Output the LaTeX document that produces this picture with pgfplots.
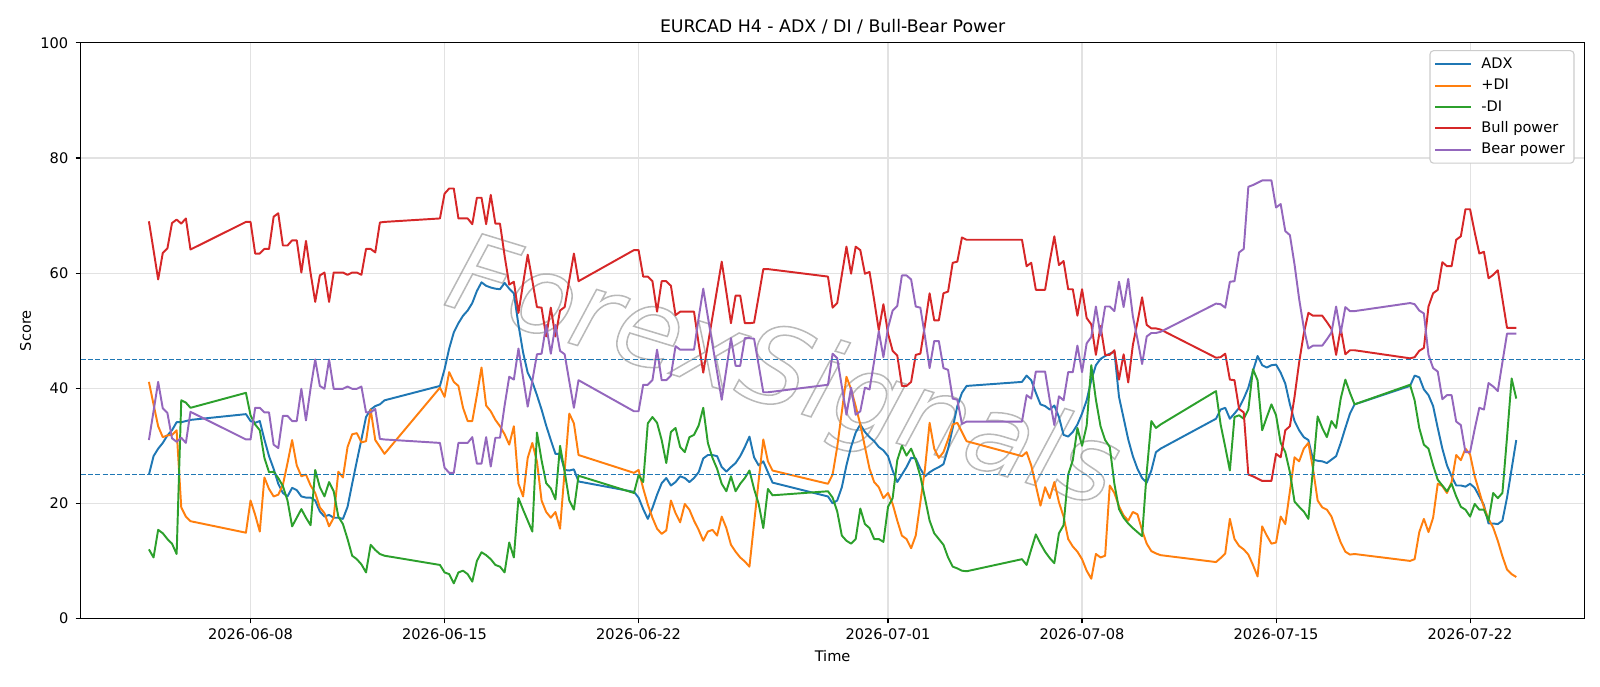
\documentclass[border=0pt]{standalone}
\usepackage{fontspec}
\setmainfont{DejaVu Sans}
\usepackage{pgfplots}
\pgfplotsset{compat=1.18}
\definecolor{tabblue}{HTML}{1F77B4}
\definecolor{taborange}{HTML}{FF7F0E}
\definecolor{tabgreen}{HTML}{2CA02C}
\definecolor{tabred}{HTML}{D62728}
\definecolor{tabpurple}{HTML}{9467BD}
\definecolor{gridgray}{HTML}{E2E2E2}
\definecolor{legframe}{HTML}{CCCCCC}
\begin{document}
\begin{tikzpicture}
\path[use as bounding box] (-58pt,-48.7pt) rectangle (1094pt,445.3pt);
\begin{axis}[
  at={(0pt,0pt)}, anchor=south west, scale only axis,
  width=1082.95pt, height=414.4pt,
  xmin=-36.8, xmax=288.8, ymin=0, ymax=100,
  xtick={0,42,84,138,180,222,264},
  xticklabels={2026-06-08,2026-06-15,2026-06-22,2026-07-01,2026-07-08,2026-07-15,2026-07-22},
  ytick={0,20,40,60,80,100},
  /pgf/number format/assume math mode=true,
  tick label style={font=\fontsize{10.5}{12.5}\selectfont},
  xticklabel style={anchor=base, yshift=-11.9pt},
  yticklabel style={anchor=east, xshift=-1.8pt},
  tick align=outside, tick pos=left, major tick length=3.5pt,
  tick style={black, line width=0.8pt},
  axis line style={line width=0.8pt},
  grid=major, major grid style={gridgray, line width=0.8pt},
  title={EURCAD H4 - ADX / DI / Bull-Bear Power},
  title style={font=\fontsize{12.5}{14.5}\selectfont, anchor=base, at={(0.5,1)}, yshift=1.8pt},
  xlabel={Time},
  xlabel style={font=\fontsize{10.5}{12.5}\selectfont, at={(axis description cs:0.5,0)}, anchor=base, yshift=-30.7pt},
  ylabel={Score},
  ylabel style={font=\fontsize{10.5}{12.5}\selectfont, at={(axis description cs:-0.0366,0.5)}, anchor=center},
  legend style={at={(1,1)}, anchor=north east, xshift=-7.3pt, yshift=-5.2pt,
    draw=legframe, rounded corners=2.5pt, line width=0.8pt,
    font=\fontsize{10.5}{12.5}\selectfont, inner xsep=3pt, inner ysep=2pt, row sep=0pt, column sep=3pt,
    nodes={minimum height=15.4pt, inner ysep=0pt, inner xsep=3.5pt}},
  legend cell align=left,
  legend image code/.code={\draw[#1, line width=1.4pt] (0pt,0pt) -- (26pt,0pt);},
  every axis plot/.append style={line width=1.4pt, line join=round},
]
\node[rotate=-17, text=gray, opacity=0.55, font=\fontsize{78}{78}\selectfont\itshape] at (axis cs:115,42) {\special{pdf:literal direct 1 Tr 1.1 w}ForexSignals\special{pdf:literal direct 0 Tr}};

\addplot[tabblue] coordinates {
(-22,25.0)(-21,28.2)(-20,29.5)(-19,30.5)(-18,31.8)(-17,32.7)(-16,34.1)(-15,34.1)(-14,34.3)(-13,34.5)
(-1,35.5)(0,34.3)(1,34.0)(2,34.3)(3,31.1)(4,28.2)(5,26.0)(6,23.4)(7,21.8)(8,21.2)(9,22.7)(10,22.3)(11,21.2)(12,21.0)(13,21.0)(14,20.5)(15,18.6)(16,17.7)(17,18.0)(18,17.5)(19,17.5)(20,17.3)(21,19.4)(22,23.4)(23,27.3)(24,31.1)(25,35.0)(26,36.3)(27,36.9)(28,37.2)(29,37.9)
(41,40.4)(42,43.3)(43,46.9)(44,49.7)(45,51.3)(46,52.6)(47,53.5)(48,54.8)(49,56.9)(50,58.4)(51,57.8)(52,57.5)(53,57.3)(54,57.2)(55,58.3)(56,57.3)(57,56.5)(58,51.0)(59,46.2)(60,42.7)(61,41.1)(62,38.8)(63,36.3)(64,33.5)(65,31.0)(66,28.6)(67,28.6)(68,25.8)(69,25.7)(70,25.9)(71,23.8)
(83,22.0)(84,21.0)(85,19.0)(86,17.3)(87,19.2)(88,21.5)(89,23.5)(90,24.4)(91,23.1)(92,23.7)(93,24.7)(94,24.4)(95,23.7)(96,24.4)(97,25.4)(98,27.8)(99,28.4)(100,28.4)(101,28.2)(102,26.3)(103,25.5)(104,26.3)(105,27.0)(106,28.2)(107,29.8)(108,31.6)(109,28.0)(110,26.6)(111,27.3)(112,25.4)(113,23.6)
(125,21.2)(126,20.0)(127,20.5)(128,22.8)(129,26.6)(130,29.8)(131,32.3)(132,33.7)(133,32.4)(134,31.5)(135,30.8)(136,29.8)(137,29.2)(138,28.2)(139,25.7)(140,23.7)(141,25.0)(142,26.3)(143,27.9)(144,27.8)(145,26.0)(146,24.7)(147,25.4)(148,25.9)(149,26.3)(150,26.8)(151,29.5)(152,33.1)(153,36.9)(154,39.2)(155,40.4)
(167,41.1)(168,42.2)(169,41.4)(170,39.2)(171,37.2)(172,36.9)(173,36.3)(174,37.0)(175,35.0)(176,31.9)(177,31.6)(178,32.4)(179,33.7)(180,35.6)(181,37.9)(182,41.4)(183,44.0)(184,45.1)(185,45.6)(186,46.0)(187,46.4)(188,38.5)(189,34.8)(190,31.1)(191,28.2)(192,26.0)(193,24.4)(194,23.6)(195,25.7)(196,28.9)(197,29.5)
(209,34.7)(210,36.3)(211,36.6)(212,34.7)(213,35.6)(214,36.6)(215,38.2)(216,40.1)(217,43.0)(218,45.6)(219,44.0)(220,43.6)(221,44.0)(222,44.1)(223,42.7)(224,40.8)(225,37.2)(226,34.3)(227,32.7)(228,31.5)(229,31.0)(230,27.6)(231,27.4)(232,27.3)(233,27.0)(234,27.6)(235,28.2)(236,30.5)(237,33.1)(238,35.6)(239,37.2)
(251,40.4)(252,42.2)(253,41.9)(254,39.8)(255,38.8)(256,36.9)(257,33.1)(258,29.5)(259,26.6)(260,24.7)(261,23.1)(262,23.1)(263,22.9)(264,23.4)(265,22.7)(266,21.2)(267,19.7)(268,16.5)(269,16.5)(270,16.4)(271,17.0)(272,21.0)(273,26.0)(274,31.0)
};
\addlegendentry{ADX}

\addplot[taborange] coordinates {
(-22,41.1)(-21,37.2)(-20,33.4)(-19,31.5)(-18,31.8)(-17,31.9)(-16,32.7)(-15,19.3)(-14,17.7)(-13,16.9)
(-1,14.9)(0,20.5)(1,18.0)(2,15.1)(3,24.5)(4,22.5)(5,21.2)(6,21.5)(7,23.2)(8,27.0)(9,31.0)(10,26.6)(11,24.7)(12,25.0)(13,23.1)(14,21.8)(15,19.3)(16,18.3)(17,16.0)(18,17.5)(19,25.5)(20,24.5)(21,29.8)(22,32.0)(23,32.2)(24,30.6)(25,30.8)(26,36.3)(27,31.0)(28,29.8)(29,28.6)
(41,40.1)(42,38.5)(43,42.8)(44,41.1)(45,40.4)(46,36.6)(47,34.3)(48,34.3)(49,38.8)(50,43.6)(51,37.0)(52,36.0)(53,34.5)(54,33.4)(55,32.0)(56,30.2)(57,33.4)(58,23.4)(59,21.2)(60,27.9)(61,30.5)(62,27.3)(63,20.5)(64,18.5)(65,17.5)(66,18.5)(67,15.6)(68,25.7)(69,35.6)(70,33.9)(71,28.4)
(83,25.3)(84,25.8)(85,22.6)(86,19.8)(87,17.5)(88,15.6)(89,14.7)(90,15.3)(91,20.5)(92,18.3)(93,16.7)(94,19.9)(95,18.9)(96,17.0)(97,15.4)(98,13.5)(99,15.1)(100,15.4)(101,14.4)(102,17.7)(103,15.7)(104,12.8)(105,11.6)(106,10.6)(107,9.9)(108,9.0)(109,16.5)(110,24.0)(111,31.1)(112,27.3)(113,25.7)
(125,23.4)(126,25.0)(127,29.8)(128,35.9)(129,42.0)(130,39.8)(131,36.9)(132,33.7)(133,29.8)(134,26.0)(135,23.7)(136,22.8)(137,20.9)(138,21.8)(139,19.9)(140,17.0)(141,14.4)(142,13.8)(143,12.2)(144,14.4)(145,20.2)(146,26.0)(147,34.0)(148,29.5)(149,27.9)(150,28.9)(151,31.1)(152,33.7)(153,34.0)(154,32.4)(155,30.8)
(167,28.2)(168,28.9)(169,26.6)(170,23.1)(171,19.6)(172,22.8)(173,20.9)(174,23.7)(175,20.2)(176,17.7)(177,13.8)(178,12.5)(179,11.6)(180,10.3)(181,8.3)(182,6.9)(183,11.2)(184,10.6)(185,10.9)(186,23.1)(187,21.8)(188,19.5)(189,17.9)(190,17.0)(191,18.5)(192,18.1)(193,15.3)(194,13.0)(195,11.7)(196,11.3)(197,11.0)
(209,9.8)(210,10.5)(211,11.3)(212,17.3)(213,13.8)(214,12.6)(215,12.0)(216,11.1)(217,9.3)(218,7.3)(219,16.0)(220,14.4)(221,13.0)(222,13.2)(223,17.7)(224,16.4)(225,22.1)(226,28.0)(227,27.3)(228,29.5)(229,30.5)(230,26.0)(231,20.5)(232,19.3)(233,18.9)(234,17.7)(235,15.4)(236,13.2)(237,11.6)(238,11.1)(239,11.2)
(251,10.0)(252,10.3)(253,15.0)(254,17.3)(255,15.0)(256,17.5)(257,23.4)(258,23.0)(259,21.8)(260,23.7)(261,28.4)(262,27.5)(263,29.5)(264,28.5)(265,24.7)(266,22.0)(267,19.3)(268,17.3)(269,15.8)(270,13.5)(271,10.8)(272,8.5)(273,7.7)(274,7.2)
};
\addlegendentry{+DI}

\addplot[tabgreen] coordinates {
(-22,12.0)(-21,10.6)(-20,15.4)(-19,14.8)(-18,13.8)(-17,13.0)(-16,11.2)(-15,37.9)(-14,37.5)(-13,36.6)
(-1,39.2)(0,35.3)(1,33.7)(2,32.7)(3,27.9)(4,25.4)(5,25.5)(6,24.4)(7,23.0)(8,20.5)(9,16.0)(10,17.5)(11,19.0)(12,17.5)(13,16.2)(14,25.8)(15,22.8)(16,21.2)(17,23.7)(18,22.1)(19,17.7)(20,16.4)(21,13.8)(22,10.9)(23,10.3)(24,9.4)(25,8.0)(26,12.8)(27,11.9)(28,11.2)(29,10.9)
(41,9.3)(42,8.0)(43,7.7)(44,6.1)(45,8.0)(46,8.3)(47,7.7)(48,6.4)(49,10.0)(50,11.5)(51,11.0)(52,10.3)(53,9.3)(54,9.0)(55,8.0)(56,13.2)(57,10.6)(58,20.9)(59,18.9)(60,17.0)(61,15.1)(62,32.3)(63,27.5)(64,23.5)(65,22.6)(66,20.7)(67,30.0)(68,25.5)(69,20.5)(70,18.9)(71,24.8)
(83,21.8)(84,24.9)(85,23.7)(86,33.9)(87,35.0)(88,34.0)(89,31.0)(90,27.0)(91,32.4)(92,33.1)(93,29.8)(94,28.9)(95,31.5)(96,31.9)(97,33.5)(98,36.6)(99,30.5)(100,27.9)(101,26.0)(102,23.4)(103,22.1)(104,24.7)(105,22.1)(106,23.4)(107,24.4)(108,25.7)(109,22.5)(110,19.9)(111,15.7)(112,22.5)(113,21.4)
(125,22.1)(126,21.0)(127,18.6)(128,14.4)(129,13.5)(130,13.0)(131,13.8)(132,19.1)(133,16.4)(134,15.7)(135,13.8)(136,13.8)(137,13.3)(138,19.4)(139,20.9)(140,27.5)(141,30.0)(142,28.3)(143,29.5)(144,27.5)(145,24.7)(146,20.9)(147,17.0)(148,14.8)(149,13.8)(150,12.8)(151,10.6)(152,9.0)(153,8.7)(154,8.3)(155,8.2)
(167,10.3)(168,9.3)(169,12.0)(170,14.6)(171,13.0)(172,11.6)(173,10.5)(174,9.6)(175,14.8)(176,16.2)(177,25.0)(178,27.5)(179,33.1)(180,30.0)(181,33.5)(182,44.0)(183,38.0)(184,33.4)(185,31.0)(186,29.8)(187,23.4)(188,19.0)(189,17.5)(190,16.5)(191,15.7)(192,15.0)(193,14.3)(194,25.4)(195,34.3)(196,33.1)(197,33.7)
(209,39.5)(210,33.7)(211,29.8)(212,25.7)(213,35.0)(214,35.3)(215,34.7)(216,36.3)(217,43.3)(218,41.4)(219,32.7)(220,35.0)(221,37.2)(222,35.3)(223,30.5)(224,28.9)(225,25.4)(226,20.3)(227,19.4)(228,18.6)(229,17.3)(230,26.0)(231,35.1)(232,33.1)(233,31.5)(234,34.3)(235,33.1)(236,38.2)(237,41.5)(238,39.2)(239,37.2)
(251,40.6)(252,37.9)(253,33.1)(254,30.2)(255,29.5)(256,26.6)(257,24.1)(258,23.1)(259,22.1)(260,23.4)(261,21.2)(262,19.4)(263,18.9)(264,17.7)(265,19.9)(266,18.9)(267,18.9)(268,17.0)(269,21.8)(270,20.9)(271,21.8)(272,31.5)(273,41.7)(274,38.2)
};
\addlegendentry{-DI}

\addplot[tabred] coordinates {
(-22,69.0)(-21,64.0)(-20,58.9)(-19,63.5)(-18,64.3)(-17,68.7)(-16,69.3)(-15,68.6)(-14,69.5)(-13,64.1)
(-1,68.9)(0,68.9)(1,63.4)(2,63.4)(3,64.2)(4,64.2)(5,69.8)(6,70.4)(7,64.8)(8,64.8)(9,65.7)(10,65.7)(11,60.1)(12,65.6)(13,60.0)(14,55.0)(15,59.6)(16,60.1)(17,55.0)(18,60.1)(19,60.1)(20,60.1)(21,59.7)(22,60.1)(23,60.1)(24,59.7)(25,64.2)(26,64.2)(27,63.6)(28,68.8)(29,68.9)
(41,69.5)(42,73.8)(43,74.7)(44,74.7)(45,69.5)(46,69.5)(47,69.5)(48,68.5)(49,73.1)(50,73.1)(51,68.5)(52,73.6)(53,68.6)(54,68.6)(55,63.0)(56,58.0)(57,58.5)(58,53.1)(59,58.2)(60,63.2)(61,58.7)(62,54.1)(63,54.0)(64,49.0)(65,54.0)(66,49.0)(67,53.5)(68,54.1)(69,58.8)(70,63.4)(71,58.6)
(83,64.0)(84,64.0)(85,59.4)(86,59.4)(87,58.6)(88,53.3)(89,58.6)(90,58.6)(91,57.8)(92,52.7)(93,53.3)(94,53.3)(95,53.3)(96,53.3)(97,47.8)(98,42.7)(99,47.6)(100,52.4)(101,57.2)(102,62.0)(103,56.7)(104,51.3)(105,56.1)(106,56.1)(107,51.3)(108,51.3)(109,51.4)(110,56.0)(111,60.7)(112,60.7)(113,60.6)
(125,59.4)(126,54.0)(127,54.8)(128,59.7)(129,64.6)(130,59.9)(131,64.6)(132,64.0)(133,59.9)(134,60.2)(135,55.3)(136,50.1)(137,54.6)(138,49.5)(139,46.5)(140,45.7)(141,40.4)(142,40.4)(143,41.1)(144,45.8)(145,46.0)(146,51.0)(147,56.5)(148,51.8)(149,51.8)(150,56.5)(151,56.8)(152,61.8)(153,62.0)(154,66.2)(155,65.8)
(167,65.8)(168,61.2)(169,61.8)(170,57.1)(171,57.1)(172,57.1)(173,62.0)(174,66.4)(175,61.4)(176,62.1)(177,57.2)(178,57.2)(179,52.6)(180,57.2)(181,52.2)(182,51.1)(183,45.8)(184,50.8)(185,45.8)(186,45.8)(187,46.6)(188,41.5)(189,45.9)(190,41.0)(191,47.5)(192,51.5)(193,55.8)(194,51.0)(195,50.4)(196,50.4)(197,50.2)
(209,45.3)(210,45.4)(211,46.0)(212,41.5)(213,41.4)(214,36.4)(215,35.8)(216,25.0)(217,24.7)(218,24.3)(219,23.9)(220,23.9)(221,23.9)(222,28.6)(223,28.0)(224,32.7)(225,33.4)(226,38.5)(227,44.5)(228,49.5)(229,53.1)(230,52.6)(231,52.6)(232,52.6)(233,51.5)(234,50.3)(235,45.8)(236,50.4)(237,45.9)(238,46.6)(239,46.6)
(251,45.2)(252,45.4)(253,46.5)(254,47.0)(255,54.2)(256,56.5)(257,57.1)(258,61.9)(259,61.2)(260,61.2)(261,65.8)(262,66.4)(263,71.1)(264,71.1)(265,67.1)(266,63.4)(267,63.7)(268,59.1)(269,59.7)(270,60.5)(271,55.5)(272,50.5)(273,50.5)(274,50.5)
};
\addlegendentry{Bull power}

\addplot[tabpurple] coordinates {
(-22,31.0)(-21,36.0)(-20,41.1)(-19,36.5)(-18,35.7)(-17,31.3)(-16,30.7)(-15,31.4)(-14,30.5)(-13,35.9)
(-1,31.1)(0,31.1)(1,36.6)(2,36.6)(3,35.8)(4,35.8)(5,30.2)(6,29.6)(7,35.2)(8,35.2)(9,34.3)(10,34.3)(11,39.9)(12,34.4)(13,40.0)(14,45.0)(15,40.4)(16,39.9)(17,45.0)(18,39.9)(19,39.9)(20,39.9)(21,40.3)(22,39.9)(23,39.9)(24,40.3)(25,35.8)(26,35.8)(27,36.4)(28,31.2)(29,31.1)
(41,30.5)(42,26.2)(43,25.3)(44,25.3)(45,30.5)(46,30.5)(47,30.5)(48,31.5)(49,26.9)(50,26.9)(51,31.5)(52,26.4)(53,31.4)(54,31.4)(55,37.0)(56,42.0)(57,41.5)(58,46.9)(59,41.8)(60,36.8)(61,41.3)(62,45.9)(63,46.0)(64,51.0)(65,46.0)(66,51.0)(67,46.5)(68,45.9)(69,41.2)(70,36.6)(71,41.4)
(83,36.0)(84,36.0)(85,40.6)(86,40.6)(87,41.4)(88,46.7)(89,41.4)(90,41.4)(91,42.2)(92,47.3)(93,46.7)(94,46.7)(95,46.7)(96,46.7)(97,52.2)(98,57.3)(99,52.4)(100,47.6)(101,42.8)(102,38.0)(103,43.3)(104,48.7)(105,43.9)(106,43.9)(107,48.7)(108,48.7)(109,48.6)(110,44.0)(111,39.3)(112,39.3)(113,39.4)
(125,40.6)(126,46.0)(127,45.2)(128,40.3)(129,35.4)(130,40.1)(131,35.4)(132,36.0)(133,40.1)(134,39.8)(135,44.7)(136,49.9)(137,45.4)(138,50.5)(139,53.5)(140,54.3)(141,59.6)(142,59.6)(143,58.9)(144,54.2)(145,54.0)(146,49.0)(147,43.5)(148,48.2)(149,48.2)(150,43.5)(151,43.2)(152,38.2)(153,38.0)(154,33.8)(155,34.2)
(167,34.2)(168,38.8)(169,38.2)(170,42.9)(171,42.9)(172,42.9)(173,38.0)(174,33.6)(175,38.6)(176,37.9)(177,42.8)(178,42.8)(179,47.4)(180,42.8)(181,47.8)(182,48.9)(183,54.2)(184,49.2)(185,54.2)(186,54.2)(187,53.4)(188,58.5)(189,54.1)(190,59.0)(191,52.5)(192,48.5)(193,44.2)(194,49.0)(195,49.6)(196,49.6)(197,49.8)
(209,54.7)(210,54.6)(211,54.0)(212,58.5)(213,58.6)(214,63.6)(215,64.2)(216,75.0)(217,75.3)(218,75.7)(219,76.1)(220,76.1)(221,76.1)(222,71.4)(223,72.0)(224,67.3)(225,66.6)(226,61.5)(227,55.5)(228,50.5)(229,46.9)(230,47.4)(231,47.4)(232,47.4)(233,48.5)(234,49.7)(235,54.2)(236,49.6)(237,54.1)(238,53.4)(239,53.4)
(251,54.8)(252,54.6)(253,53.5)(254,53.0)(255,45.8)(256,43.5)(257,42.9)(258,38.1)(259,38.8)(260,38.8)(261,34.2)(262,33.6)(263,28.9)(264,28.9)(265,32.9)(266,36.6)(267,36.3)(268,40.9)(269,40.3)(270,39.5)(271,44.5)(272,49.5)(273,49.5)(274,49.5)
};
\addlegendentry{Bear power}

\addplot[tabblue, line width=1pt, dash pattern=on 3.7pt off 1.6pt, forget plot] coordinates {(-36.8,45) (288.8,45)};
\addplot[tabblue, line width=1pt, dash pattern=on 3.7pt off 1.6pt, forget plot] coordinates {(-36.8,25) (288.8,25)};
\end{axis}
\end{tikzpicture}
\end{document}
